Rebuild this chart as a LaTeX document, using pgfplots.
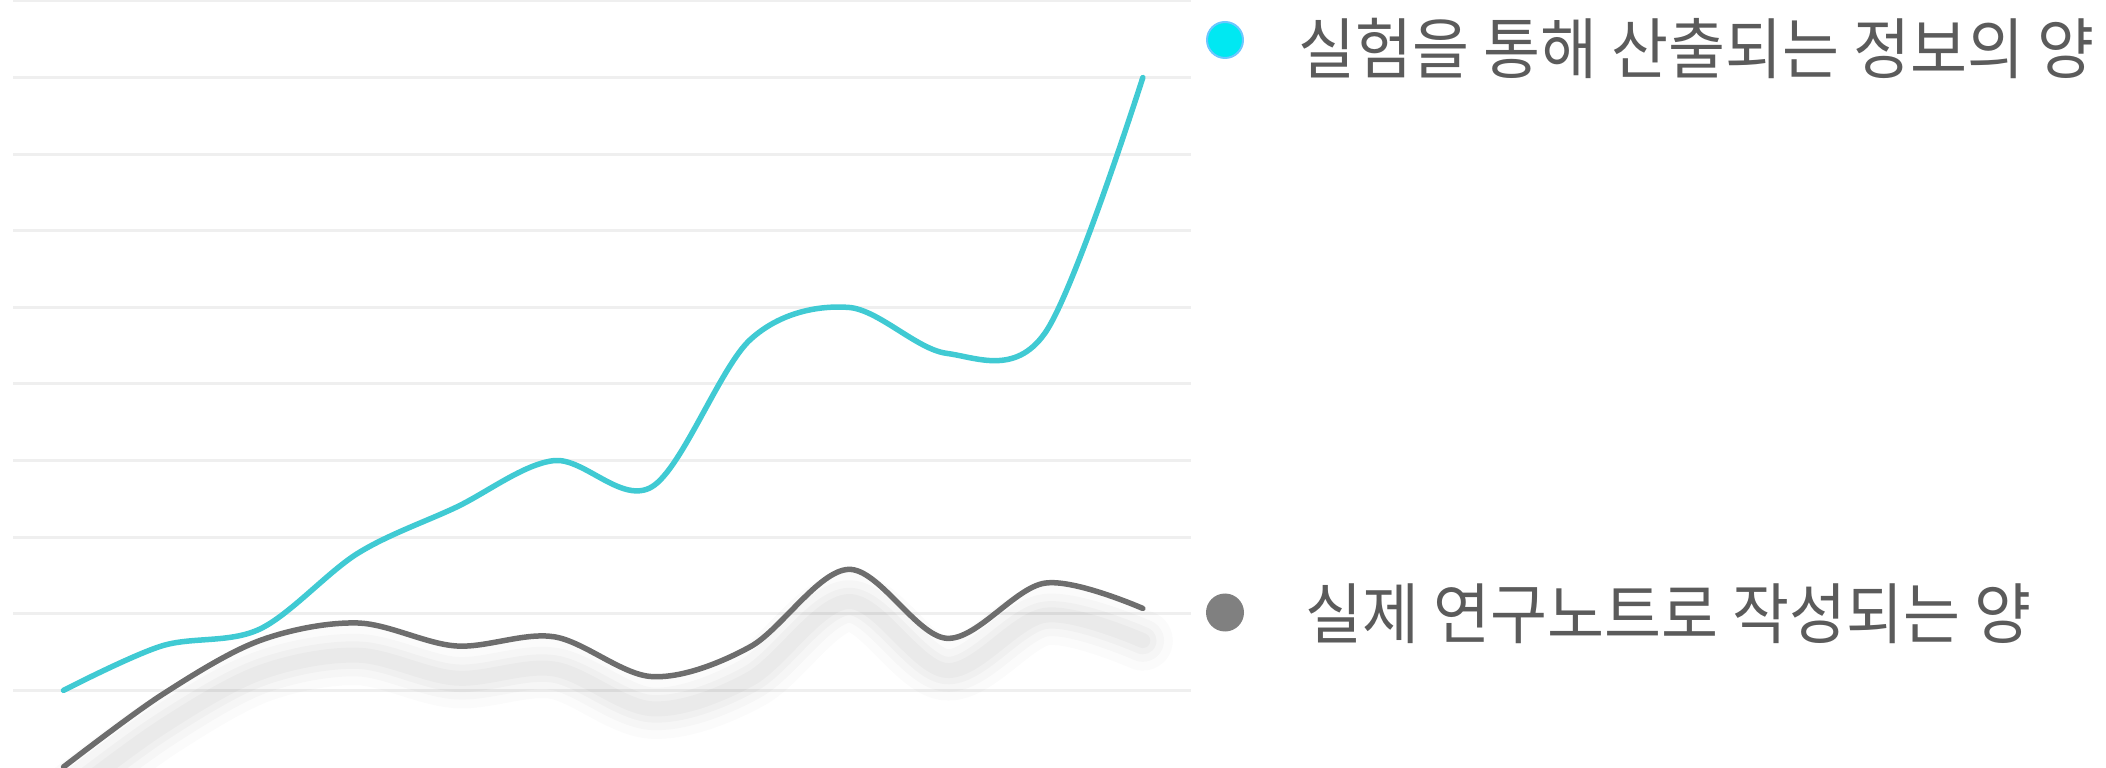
\documentclass[border=0pt]{standalone}
\usepackage{pgfplots}
\pgfplotsset{compat=1.18}
\usepackage{pgfplotstable}
\usepackage{fontspec}
\usepackage{graphicx}
\newfontfamily\kr{Noto Sans CJK KR}
\definecolor{cyanline}{HTML}{40CAD3}
\definecolor{grayline}{HTML}{6D6D6D}
\definecolor{gridc}{HTML}{EFEFEF}
\definecolor{txt}{HTML}{5B5B5B}
\definecolor{legcyan}{HTML}{00E8F2}
\definecolor{legcyanb}{HTML}{6CC7FF}
\definecolor{leggray}{HTML}{808080}

\pgfplotstableread{
x v
63.5 1.00
161.6 1.58
259.7 1.80
357.8 2.79
456.0 3.39
554.1 4.00
652.2 3.66
750.3 5.58
848.5 6.00
946.6 5.40
1044.7 5.66
1142.8 9.00
}\cyantab

\pgfplotstableread{
x v
63.5 0.00
161.6 0.94
259.7 1.65
357.8 1.88
456.0 1.58
554.1 1.70
652.2 1.18
750.3 1.57
848.5 2.58
946.6 1.68
1044.7 2.40
1142.8 2.07
}\graytab

\begin{document}
\begin{tikzpicture}[x=0.4pt,y=0.4pt]
\begin{axis}[
  at={(5.2pt,0pt)}, anchor=south west,
  scale only axis, width=471.2pt, height=306.4pt,
  xmin=13, xmax=1191, ymin=0, ymax=10,
  xtick=\empty, ytick={1,2,3,4,5,6,7,8,9,10}, yticklabels={},
  ymajorgrids, major grid style={color=gridc, line width=1.2pt},
  axis line style={draw=none}, major tick length=0pt,
  clip=true,
  every axis plot/.append style={smooth, tension=0.55, line cap=round, line join=round, mark=none},
]
\addplot[black, opacity=0.015, line width=24pt] table[x=x, y expr=\thisrow{v}-0.42] {\graytab};
\addplot[black, opacity=0.02, line width=17pt] table[x=x, y expr=\thisrow{v}-0.42] {\graytab};
\addplot[black, opacity=0.025, line width=11pt] table[x=x, y expr=\thisrow{v}-0.42] {\graytab};
\addplot[black, opacity=0.025, line width=6pt] table[x=x, y expr=\thisrow{v}-0.42] {\graytab};
\addplot[grayline, line width=2.2pt] table[x=x, y=v] {\graytab};
\addplot[cyanline, line width=2.2pt] table[x=x, y=v] {\cyantab};
\end{axis}
\node[circle, fill=legcyan, draw=legcyanb, line width=0.8pt, minimum size=14.4pt, inner sep=0pt] at (1225,727) {};
\node[circle, fill=leggray, minimum size=15.2pt, inner sep=0pt] at (1225,154.5) {};
\node[anchor=base west, inner sep=0pt, text=txt, font=\kr\fontsize{26.5pt}{30pt}\selectfont] at (1298,693) {\scalebox{0.935}[1]{실험을 통해 산출되는 정보의 양}};
\node[anchor=base west, inner sep=0pt, text=txt, font=\kr\fontsize{26.5pt}{30pt}\selectfont] at (1305,129) {\scalebox{0.935}[1]{실제 연구노트로 작성되는 양}};
\pgfresetboundingbox
\path (0,0) rectangle (2106,767);
\end{tikzpicture}
\end{document}
